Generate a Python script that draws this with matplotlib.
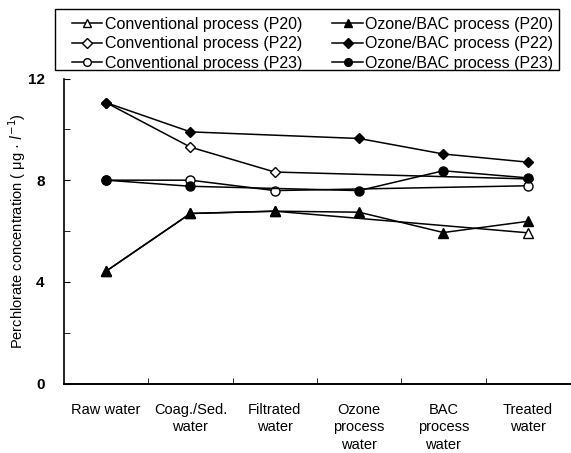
import numpy as np
import matplotlib
matplotlib.use("Agg")
import matplotlib.pyplot as plt
from matplotlib.patches import Rectangle
from matplotlib.ticker import FixedLocator

plt.rcParams['font.family'] = ['Liberation Sans', 'DejaVu Sans']

# Treatment stages along the plant
stages = ["Raw water", "Coag./Sed.\nwater", "Filtrated\nwater",
          "Ozone\nprocess\nwater", "BAC\nprocess\nwater", "Treated\nwater"]

# Conventional process has no ozone / BAC step
conv_idx = [0, 1, 2, 5]
conv_p20 = [4.42, 6.69, 6.78, 5.93]
conv_p22 = [11.05, 9.3, 8.32, 8.05]
conv_p23 = [8.0, 8.0, 7.59, 7.78]

ozone_p20_idx = [0, 1, 2, 3, 4, 5]
ozone_p20 = [4.42, 6.69, 6.78, 6.74, 5.94, 6.38]
ozone_idx = [0, 1, 3, 4, 5]
ozone_p22 = [11.05, 9.9, 9.64, 9.03, 8.71]
ozone_p23 = [8.0, 7.76, 7.59, 8.37, 8.09]

fig = plt.figure(figsize=(5.71, 4.53), dpi=100)
ax = fig.add_axes([0.112, 0.1534, 0.886, 0.6733])

style = dict(color='black', lw=1.1, ms=6.5, mew=1.0)
dstyle = dict(style, ms=5.5)
h1, = ax.plot(conv_idx, conv_p20, marker='^', mfc='white', label='Conventional process (P20)', **style)
h2, = ax.plot(conv_idx, conv_p22, marker='D', mfc='white', label='Conventional process (P22)', **dstyle)
h3, = ax.plot(conv_idx, conv_p23, marker='o', mfc='white', label='Conventional process (P23)', **style)
h4, = ax.plot(ozone_p20_idx, ozone_p20, marker='^', mfc='black', label='Ozone/BAC process (P20)', **style)
h5, = ax.plot(ozone_idx, ozone_p22, marker='D', mfc='black', label='Ozone/BAC process (P22)', **dstyle)
h6, = ax.plot(ozone_idx, ozone_p23, marker='o', mfc='black', label='Ozone/BAC process (P23)', **style)

ax.set_xlim(-0.5, 5.5)
ax.set_ylim(0, 12)

ax.set_xticks(range(len(stages)))
ax.set_xticklabels(stages, fontsize=10.5, linespacing=1.3)
ax.tick_params(axis='x', which='major', length=0, pad=14)
ax.xaxis.set_minor_locator(FixedLocator(np.arange(0.5, 5, 1)))
ax.tick_params(axis='x', which='minor', direction='in', length=4)

ax.set_yticks([0, 4, 8, 12])
ax.set_yticklabels(['0', '4', '8', '12'], fontsize=11, fontweight='bold')
ax.yaxis.set_minor_locator(FixedLocator([2, 6, 10]))
ax.tick_params(axis='y', which='both', direction='in', length=4, pad=14)

ax.spines['top'].set_visible(False)
ax.spines['right'].set_visible(False)
ax.spines['left'].set_linewidth(1.2)
ax.spines['bottom'].set_linewidth(1.4)

ax.set_ylabel('Perchlorate concentration ( μg · $l^{-1}$)', fontsize=10.5)
ax.yaxis.set_label_coords(-0.071, 0.5)

leg = fig.legend(handles=[h1, h2, h3, h4, h5, h6], ncol=2, loc='upper left',
                 bbox_to_anchor=(72 / 571, 1 - 17 / 453), fontsize=11.5,
                 frameon=False, handlelength=1.9, handletextpad=0.15,
                 columnspacing=1.9, labelspacing=0.27, borderpad=0,
                 borderaxespad=0, markerscale=0.85)

# box around the key
fig.patches.append(Rectangle((55 / 571, 1 - 70 / 453), 504 / 571, 61 / 453,
                             transform=fig.transFigure, fill=False,
                             edgecolor='black', lw=1.0))

fig.savefig('out.png', dpi=100)
